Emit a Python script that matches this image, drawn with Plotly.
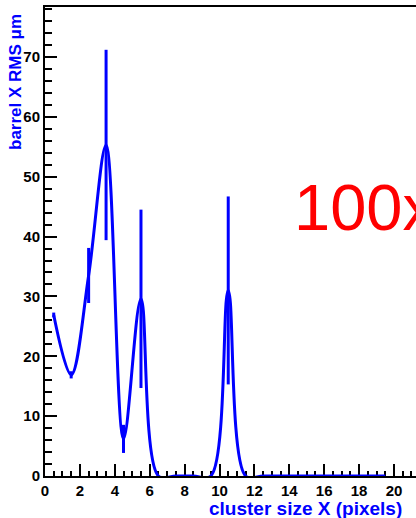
import plotly.graph_objects as go

# Histogram bins: centres of unit-width cluster-size bins
bin_centres = [0.5, 1.5, 2.5, 3.5, 4.5, 5.5, 6.5, 7.5, 8.5, 9.5,
               10.5, 11.5, 12.5, 13.5, 14.5, 15.5, 16.5, 17.5, 18.5, 19.5]
# Barrel X residual RMS per bin (um) and its uncertainty
rms_values = [26.9, 16.9, 33.5, 55.3, 6.2, 29.6, 0.0, 0.0, 0.0, 0.0,
              31.0, 0.0, 0.0, 0.0, 0.0, 0.0, 0.0, 0.0, 0.0, 0.0]
rms_errors = [0.4, 0.6, 4.6, 15.9, 2.35, 14.9, 0.0, 0.0, 0.0, 0.0,
              15.7, 0.0, 0.0, 0.0, 0.0, 0.0, 0.0, 0.0, 0.0, 0.0]

x_ticks = [0, 2, 4, 6, 8, 10, 12, 14, 16, 18, 20]
y_ticks = [0, 10, 20, 30, 40, 50, 60, 70]

BLUE = "#0000FF"
FONT = "Liberation Sans, Arial"

fig = go.Figure()

# Smooth curve through the bin contents
fig.add_trace(go.Scatter(
    x=bin_centres, y=rms_values, mode="lines",
    line=dict(color=BLUE, width=3, shape="spline", smoothing=1.0),
    hoverinfo="skip", showlegend=False,
))

# Vertical error bars on each bin
fig.add_trace(go.Scatter(
    x=bin_centres, y=rms_values, mode="markers",
    marker=dict(size=1, color=BLUE, opacity=0),
    error_y=dict(type="data", array=rms_errors, visible=True,
                 color=BLUE, thickness=3, width=0),
    hoverinfo="skip", showlegend=False,
))

fig.update_layout(
    width=416, height=518,
    margin=dict(l=45, r=0, t=7, b=42),
    paper_bgcolor="white", plot_bgcolor="white",
    showlegend=False,
    xaxis=dict(
        range=[0, 371 / 17.45], tickmode="array", tickvals=x_ticks,
        ticks="inside", ticklen=12, tickwidth=1.5, tickcolor="black",
        minor=dict(dtick=0.5, ticks="inside", ticklen=5, tickwidth=1.5, tickcolor="black"),
        showline=True, linecolor="black", linewidth=2, mirror=True,
        showgrid=False, zeroline=False, layer="below traces",
        tickfont=dict(family=FONT, size=15, color="black", weight="bold"),
        ticklabelstandoff=0,
    ),
    yaxis=dict(
        range=[0, 469 / 5.986], tickmode="array", tickvals=y_ticks,
        ticks="inside", ticklen=12, tickwidth=1.5, tickcolor="black",
        minor=dict(dtick=2, ticks="inside", ticklen=7, tickwidth=1.5, tickcolor="black"),
        showline=True, linecolor="black", linewidth=2, mirror=False,
        showgrid=False, zeroline=False, layer="below traces",
        tickfont=dict(family=FONT, size=15, color="black", weight="bold"),
        ticklabelstandoff=0,
    ),
    annotations=[
        dict(text="barrel X RMS \u03bcm", xref="paper", yref="paper",
             x=(15 - 45) / 371, y=1 - 5 / 469, xanchor="center", yanchor="top",
             textangle=-90, showarrow=False,
             font=dict(family=FONT, size=17, color=BLUE, weight="bold")),
        dict(text="cluster size X (pixels)", xref="paper", yref="paper",
             x=(404 - 45) / 371, y=(476 - 508) / 469, xanchor="right", yanchor="middle",
             showarrow=False,
             font=dict(family=FONT, size=19, color=BLUE, weight="bold")),
        dict(text="100x", xref="paper", yref="paper",
             x=(292 - 45) / 371, y=(476 - 207) / 469, xanchor="left", yanchor="middle",
             showarrow=False,
             font=dict(family=FONT, size=65, color="#FF0000")),
    ],
)

fig.write_html("out.html")
